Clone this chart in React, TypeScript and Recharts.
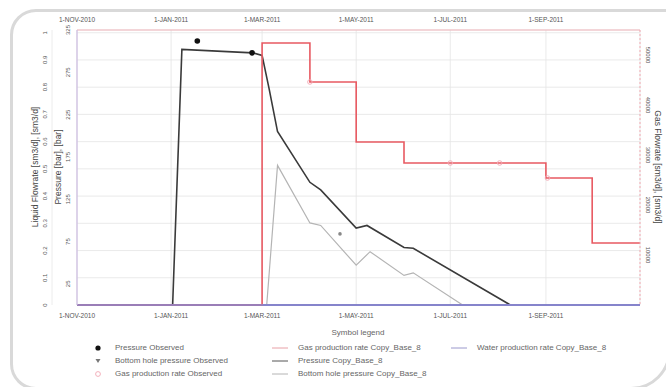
import React from "react";
import {
  ComposedChart,
  Line,
  Scatter,
  XAxis,
  YAxis,
  CartesianGrid,
  Label,
} from "recharts";

// x values are days counted from 1-NOV-2010
const dateTicks = [0, 61, 120, 181, 242, 304];
const dateLabels = ["1-NOV-2010", "1-JAN-2011", "1-MAR-2011", "1-MAY-2011", "1-JUL-2011", "1-SEP-2011"];

const liquidTicks = [0, 0.1, 0.2, 0.3, 0.4, 0.5, 0.6, 0.7, 0.8, 0.9, 1];
const pressureTicks = [25, 75, 125, 175, 225, 275, 325];
const gasTicks = [10000, 20000, 30000, 40000, 50000];

// simulated curves (Copy_Base_8)
const pressureSimDays = [0, 62, 68, 114, 120, 124.5, 130, 151, 158, 181, 188, 212, 218, 281];
const pressureSimBar = [0, 0, 302, 298, 295, 256, 205, 145, 136, 91, 94, 68, 67, 0];

const bhpSimDays = [0, 123, 130, 151, 158, 181, 190, 212, 218, 250];
const bhpSimBar = [0, 0, 165, 97, 94, 47, 63, 35, 38, 0];

const gasSimDays = [0, 120, 151, 181, 212, 304, 334, 365];
const gasSimRate = [0, 52400, 44600, 32600, 28400, 25400, 12400, 12400];

const waterSimDays = [0, 365];
const waterSimRate = [0, 0];

// observed points
const pressureObsDays = [78, 113.5];
const pressureObsBar = [312, 298];

const bhpObsDays = [170.5];
const bhpObsBar = [84];

const gasObsDays = [151, 242, 274, 305];
const gasObsRate = [44600, 28400, 28400, 25400];

const zip = (days: number[], vals: number[]) => days.map((day, i) => ({ day, v: vals[i] }));

const pressureSim = zip(pressureSimDays, pressureSimBar);
const bhpSim = zip(bhpSimDays, bhpSimBar);
const gasSim = zip(gasSimDays, gasSimRate);
const waterSim = zip(waterSimDays, waterSimRate);
const pressureObs = zip(pressureObsDays, pressureObsBar);
const bhpObs = zip(bhpObsDays, bhpObsBar);
const gasObs = zip(gasObsDays, gasObsRate);

const FONT = "'Liberation Sans', Arial, sans-serif";
const TEXT = "#555";

// axis ids: pressure sits next to the plot, liquid rate outside it
const P_AXIS = "inner";
const L_AXIS = "outer";

const dateFmt = (d: number) => dateLabels[dateTicks.indexOf(d)] ?? "";

const rotatedTick = (angle: number) => (props: any) => {
  const { x, y, payload } = props;
  return (
    <text
      x={x}
      y={y}
      transform={`rotate(${angle} ${x} ${y})`}
      textAnchor="middle"
      fontSize={6}
      fontFamily={FONT}
      fill={TEXT}
    >
      {payload.value}
    </text>
  );
};

const axisTitle = (text: string, dx: number, angle: number) => (props: any) => {
  const vb = props.viewBox || {};
  const cx = vb.x + dx;
  const cy = 167;
  return (
    <text
      x={cx}
      y={cy}
      transform={`rotate(${angle} ${cx} ${cy})`}
      textAnchor="middle"
      fontSize={8.5}
      fontFamily={FONT}
      fill="#444"
    >
      {text}
    </text>
  );
};

const LegendLine = ({ color, width = 1 }: { color: string; width?: number }) => (
  <svg width={16} height={6} style={{ marginRight: 10 }}>
    <line x1={0} y1={3} x2={16} y2={3} stroke={color} strokeWidth={width} />
  </svg>
);

const legendRow = (top: number, left: number, symbol: React.ReactNode, text: string) => (
  <div
    key={text}
    style={{
      position: "absolute",
      top,
      left,
      display: "flex",
      alignItems: "center",
      fontSize: 8,
      color: "#666",
      fontFamily: FONT,
      whiteSpace: "nowrap",
      lineHeight: "10px",
    }}
  >
    {symbol}
    <span>{text}</span>
  </div>
);

export default function App() {
  return (
    <div
      style={{
        position: "absolute",
        left: 0,
        top: 0,
        width: 666,
        height: 387,
        background: "#fff",
        overflow: "hidden",
      }}
    >
      <div
        style={{
          position: "absolute",
          left: 10,
          top: 9,
          width: 661,
          height: 381,
          border: "3px solid #d9d9d9",
          borderRadius: "26px 0 40px 26px",
          boxSizing: "border-box",
        }}
      />
      <ComposedChart
        width={666}
        height={387}
        margin={{ top: 16, right: 0, bottom: 66, left: 20 }}
        style={{ position: "absolute", left: 0, top: 0 }}
      >
        <CartesianGrid
          xAxisId="bottom"
          yAxisId={L_AXIS}
          stroke="#e4e4e4"
          strokeWidth={0.8}
        />
        <XAxis
          xAxisId="bottom"
          dataKey="day"
          type="number"
          domain={[0, 365]}
          ticks={dateTicks}
          tickFormatter={dateFmt}
          height={16}
          tickSize={0}
          tickMargin={8}
          axisLine={{ stroke: "#8a88cc", strokeWidth: 1.5 }}
          tick={{ fontSize: 6.5, fill: TEXT, fontFamily: FONT }}
          interval={0}
        />
        <XAxis
          xAxisId="top"
          orientation="top"
          dataKey="day"
          type="number"
          domain={[0, 365]}
          ticks={dateTicks}
          tickFormatter={dateFmt}
          height={14}
          tickSize={0}
          tickMargin={8}
          axisLine={{ stroke: "#f2b6bc", strokeWidth: 1.2 }}
          tick={{ fontSize: 6.5, fill: TEXT, fontFamily: FONT }}
          interval={0}
        />
        <YAxis
          yAxisId={P_AXIS}
          orientation="left"
          type="number"
          domain={[0, 325]}
          ticks={pressureTicks}
          width={25}
          tickSize={0}
          tickMargin={7}
          axisLine={{ stroke: "#cdbde2", strokeWidth: 1.2 }}
          tick={rotatedTick(-90)}
          interval={0}
        >
          <Label content={axisTitle("Pressure [bar], [bar]", 9, -90)} />
        </YAxis>
        <YAxis
          yAxisId={L_AXIS}
          orientation="left"
          type="number"
          domain={[0, 1.01]}
          ticks={liquidTicks}
          width={32}
          tickSize={0}
          tickMargin={5}
          axisLine={{ stroke: "#ececec" }}
          tick={rotatedTick(-90)}
          interval={0}
        >
          <Label content={axisTitle("Liquid Flowrate [sm3/d], [sm3/d]", 18, -90)} />
        </YAxis>
        <YAxis
          yAxisId="gas"
          orientation="right"
          type="number"
          domain={[0, 55000]}
          ticks={gasTicks}
          width={26}
          tickSize={0}
          tickMargin={6}
          axisLine={{ stroke: "#f2a8b0", strokeDasharray: "2 2" }}
          tick={rotatedTick(90)}
          interval={0}
        >
          <Label content={axisTitle("Gas Flowrate [sm3/d], [sm3/d]", 15, 90)} />
        </YAxis>

        <Line
          xAxisId="bottom"
          yAxisId={P_AXIS}
          data={bhpSim}
          dataKey="v"
          stroke="#b4b4b4"
          strokeWidth={1.2}
          dot={false}
          isAnimationActive={false}
        />
        <Line
          xAxisId="bottom"
          yAxisId={P_AXIS}
          data={pressureSim}
          dataKey="v"
          stroke="#3a3a3a"
          strokeWidth={1.6}
          dot={false}
          isAnimationActive={false}
        />
        {/* water rate is registered on the top axis too so its date ticks get drawn */}
        <Line
          xAxisId="top"
          yAxisId={L_AXIS}
          data={waterSim}
          dataKey="v"
          stroke="none"
          dot={false}
          isAnimationActive={false}
        />
        <Line
          xAxisId="bottom"
          yAxisId={L_AXIS}
          data={waterSim}
          dataKey="v"
          stroke="#7b79c6"
          strokeWidth={2.2}
          dot={false}
          isAnimationActive={false}
        />
        <Line
          xAxisId="bottom"
          yAxisId="gas"
          data={gasSim}
          dataKey="v"
          type="stepAfter"
          stroke="#e85a62"
          strokeWidth={1.6}
          dot={false}
          isAnimationActive={false}
        />
        <Scatter
          xAxisId="bottom"
          yAxisId="gas"
          data={gasObs}
          dataKey="v"
          isAnimationActive={false}
          shape={(p: any) => (
            <circle cx={p.cx} cy={p.cy} r={2.3} fill="none" stroke="#f2a8b4" strokeWidth={0.9} />
          )}
        />
        <Scatter
          xAxisId="bottom"
          yAxisId={P_AXIS}
          data={bhpObs}
          dataKey="v"
          isAnimationActive={false}
          shape={(p: any) => (
            <circle cx={p.cx} cy={p.cy} r={1.8} fill="#888" />
          )}
        />
        <Scatter
          xAxisId="bottom"
          yAxisId={P_AXIS}
          data={pressureObs}
          dataKey="v"
          isAnimationActive={false}
          shape={(p: any) => <circle cx={p.cx} cy={p.cy} r={2.8} fill="#111" />}
        />
      </ComposedChart>

      <div
        style={{
          position: "absolute",
          top: 328,
          left: 0,
          width: 716,
          textAlign: "center",
          fontSize: 8,
          color: "#666",
          fontFamily: FONT,
          lineHeight: "10px",
        }}
      >
        Symbol legend
      </div>
      {legendRow(343, 94,
        <svg width={8} height={8} style={{ marginRight: 13 }}><circle cx={4} cy={4} r={2.6} fill="#111" /></svg>,
        "Pressure Observed")}
      {legendRow(356, 94,
        <svg width={8} height={8} style={{ marginRight: 13 }}><path d="M1.5 2 L6.5 2 L4 6 Z" fill="#777" /></svg>,
        "Bottom hole pressure Observed")}
      {legendRow(369, 94,
        <svg width={8} height={8} style={{ marginRight: 13 }}><circle cx={4} cy={4} r={2.4} fill="none" stroke="#f2a8b4" strokeWidth={0.9} /></svg>,
        "Gas production rate Observed")}
      {legendRow(343, 272, <LegendLine color="#e8a0a6" />, "Gas production rate Copy_Base_8")}
      {legendRow(356, 272, <LegendLine color="#555" />, "Pressure Copy_Base_8")}
      {legendRow(369, 272, <LegendLine color="#b4b4b4" />, "Bottom hole pressure Copy_Base_8")}
      {legendRow(343, 451, <LegendLine color="#9a98cc" />, "Water production rate Copy_Base_8")}
    </div>
  );
}
